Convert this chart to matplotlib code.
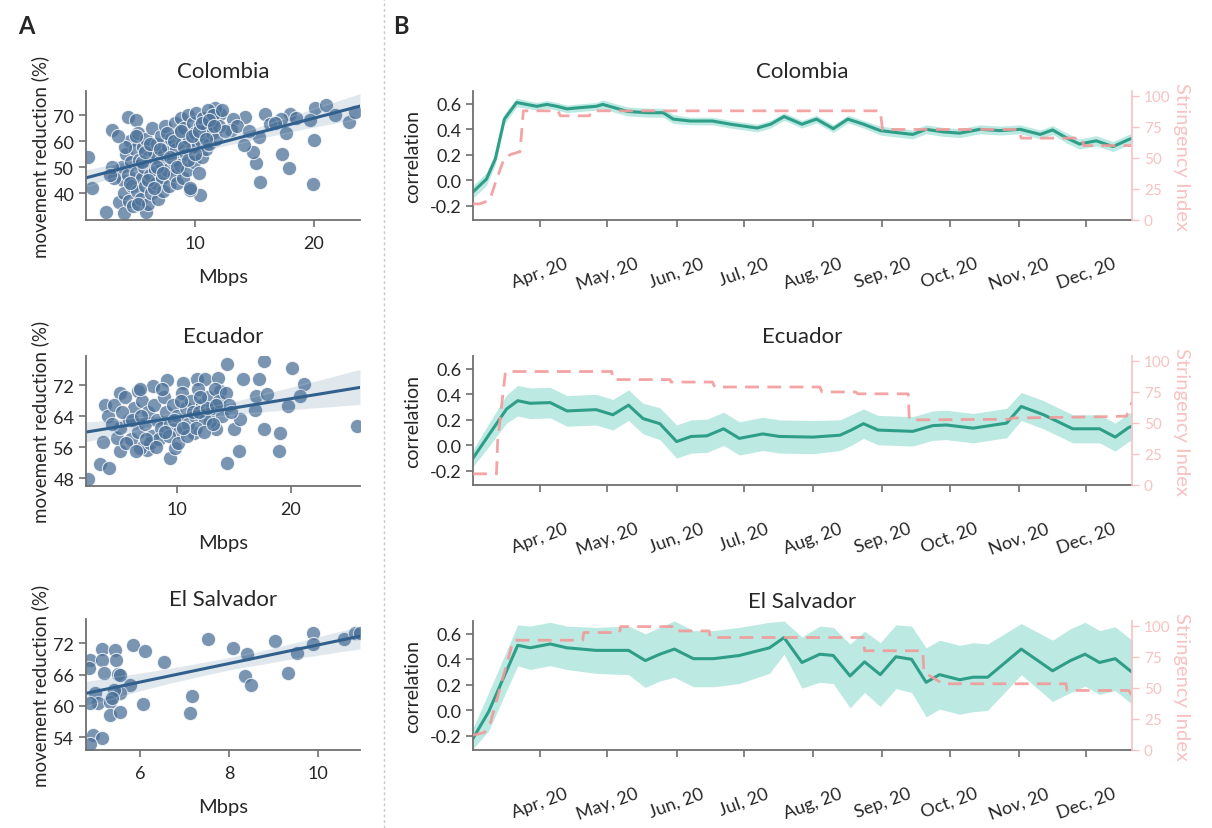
import numpy as np
import pandas as pd
import matplotlib
matplotlib.use("Agg")
import matplotlib.pyplot as plt
import matplotlib.dates as mdates
from matplotlib.lines import Line2D
import seaborn as sns

sns.set_style("ticks")
plt.rcParams['font.family'] = ['Lato', 'DejaVu Sans']

countries = ['Colombia', 'Ecuador', 'El Salvador']

# ---- panel A: download speed vs movement reduction ----
col_mbps = [20.1, 21.0, 21.8, 23.0, 23.5, 19.7, 20.0, 19.9, 17.9, 17.3, 17.7, 18.0, 17.2, 15.5, 15.1, 14.9,
            15.4, 15.9, 16.3, 14.2, 14.1, 13.2, 13.0, 12.1, 11.7, 10.4, 9.6, 5.9, 2.5, 1.3, 1.0, 3.0, 4.3, 5.0,
            3.6, 4.0,
            3.8, 3.9, 4.0, 4.2, 4.3, 4.4, 4.5, 4.6, 4.7, 4.8, 4.9, 5.0, 5.1, 5.2, 5.3, 5.4, 5.5, 5.6, 5.7, 5.8,
            5.9, 6.0, 6.1, 6.2, 6.3, 6.4, 6.5, 6.6, 6.7, 6.8, 6.9, 7.0, 7.1, 7.2, 7.3, 7.4, 7.5, 7.6, 7.7, 7.8,
            8.0, 8.1, 8.2, 8.3, 8.4, 8.5, 8.6, 8.7, 8.8, 8.9, 9.0, 9.1, 9.2, 9.3, 9.4, 9.5, 9.6, 9.7, 9.8, 9.9,
            10.0, 10.1, 10.2, 10.3, 10.4, 10.5, 10.6, 10.7, 10.8, 10.9, 11.0, 11.1, 11.2, 11.3, 11.4, 11.5, 11.8,
            12.0, 12.3, 12.5, 13.5, 14.5, 16.7, 18.5,
            4.1, 4.5, 5.0, 5.2, 5.5, 5.8, 6.0, 6.2, 6.5, 6.8, 7.0, 7.3, 7.6, 7.9, 8.2, 8.5, 8.8, 9.1, 9.4, 9.7,
            10.0, 10.3, 10.6, 10.9, 11.2, 11.6, 3.5, 3.2, 3.0, 2.8]
col_move = [72.6, 73.8, 70.0, 67.4, 71.3, 68.0, 60.4, 43.8, 49.6, 55.3, 63.0, 70.6, 68.7, 44.5, 51.5, 56.0,
            61.7, 70.6, 66.8, 69.4, 58.5, 68.7, 64.3, 70.6, 72.6, 39.3, 41.3, 33.0, 33.0, 41.9, 54.0, 64.3, 69.4, 68.0,
            36.8, 32.4,
            50, 45, 40, 55, 47, 37, 60, 52, 43, 35, 57, 48, 41, 63, 53, 38, 46, 58, 50, 43,
            61, 36, 54, 47, 40, 65, 56, 49, 44, 59, 38, 52, 62, 46, 41, 55, 66, 49, 58, 43,
            61, 53, 47, 67, 57, 44, 63, 51, 69, 59, 46, 65, 55, 49, 70, 61, 42, 57, 67, 52,
            63, 71, 58, 48, 66, 60, 54, 69, 62, 57, 65, 72, 59, 67, 63, 70, 61,
            66, 72, 64, 66, 64, 67, 69,
            58, 44, 62, 36, 52, 56, 45, 59, 42, 50, 57, 48, 63, 54, 60, 50, 64, 58, 53, 62,
            55, 64, 67, 61, 68, 66, 62, 46, 50, 47]

ecu_mbps = [14.4, 17.7, 20.1, 21.2, 20.8, 19.8, 17.2, 15.8, 17.0, 17.9, 16.9, 17.7, 19.1, 19.0, 15.5, 14.4,
            15.0, 15.6, 25.8, 2.25, 3.3, 4.1, 3.5, 5.0, 3.7, 5.0, 6.6, 7.95, 9.2, 10.6, 11.75, 12.5, 13.65, 13.8,
            9.4, 9.85, 7.4, 6.8, 4.8, 11.5, 13.5, 12.9,
            4.0, 4.5, 5.0, 5.5, 5.8, 6.0, 6.3, 6.6, 7.0, 7.2, 7.5, 7.8, 8.0, 8.3, 8.6, 8.9, 9.1, 9.4, 9.7, 10.0,
            10.2, 10.5, 10.8, 11.0, 11.3, 11.6, 11.9, 12.2, 12.5, 12.8, 13.1, 13.4, 13.7, 14.0, 14.3, 14.6,
            5.2, 6.1, 6.9, 7.7, 8.5, 9.3, 10.1, 10.9, 11.7, 12.4, 13.2, 4.3, 5.6, 6.4, 7.3, 8.2, 9.0, 9.8, 10.6,
            11.4, 12.0, 12.7, 13.5, 14.8, 6.8, 8.7, 10.4, 12.1]
ecu_move = [77.5, 78.2, 76.3, 72.3, 69.2, 66.6, 73.5, 73.5, 69.2, 69.6, 65.7, 60.6, 59.7, 55.0, 55.0, 52.0,
            60.6, 63.2, 61.5, 47.7, 51.6, 50.6, 57.4, 55.0, 67.0, 70.0, 70.5, 71.7, 73.2, 72.6, 73.5, 73.5, 73.9, 70.5,
            53.3, 55.9, 55.4, 55.9, 58.4, 59.7, 60.6, 62.7,
            64, 67, 61, 69, 63, 58, 66, 60, 68, 62, 65, 59, 67, 63, 61, 69, 65, 62, 67, 64,
            60, 70, 66, 62, 68, 64, 71, 67, 63, 69, 66, 71, 68, 64, 70, 67,
            65, 63, 64, 57, 58, 59, 57, 59, 61, 60, 62, 62, 57, 55, 58, 56, 60, 63, 61,
            65, 65, 66, 67, 65, 71, 71, 68, 69]

slv_mbps = [4.86, 5.14, 5.44, 5.46, 5.14, 4.84, 5.18, 5.51, 5.83, 6.11, 6.54, 7.52, 8.08, 8.4, 9.04, 9.9, 9.9,
            10.6, 10.84, 9.53, 9.32, 8.36, 8.49, 7.16, 7.13, 6.06, 5.78, 5.54, 5.4, 4.99, 5.06, 5.33, 5.31, 5.55,
            4.88, 4.94, 5.14, 4.88, 5.55, 5.36, 10.94]
slv_move = [68.9, 71.0, 70.8, 68.9, 68.9, 67.3, 66.4, 66.2, 71.7, 70.6, 68.4, 72.8, 71.2, 69.9, 72.5, 74.0, 71.9,
            72.8, 74.0, 70.2, 66.4, 65.8, 64.1, 61.9, 58.6, 60.4, 64.1, 62.5, 63.1, 62.5, 60.5, 60.8, 58.2, 58.9,
            60.5, 54.3, 53.9, 52.7, 66.0, 61.5, 74.1]

scatter_x = [col_mbps, ecu_mbps, slv_mbps]
scatter_y = [col_move, ecu_move, slv_move]
scatter_xlim = [(0.8, 23.9), (2.05, 26.1), (4.78, 10.95)]
scatter_ylim = [(29.8, 79.3), (46.0, 79.5), (51.5, 76.7)]
scatter_xticks = [[10, 20], [10, 20], [6, 8, 10]]
scatter_yticks = [[40, 50, 60, 70], [48, 56, 64, 72], [54, 60, 66, 72]]

# ---- panel B: correlation over time (days since 2020-03-02) ----
start = pd.Timestamp('2020-03-02')
end_day = 294.5

col_days = [0, 6, 10, 14, 19.5, 24, 28.5, 33, 37.5, 42, 48, 55, 58, 63, 69, 78, 85, 89.5, 97, 107,
            115, 127, 133, 139, 147, 153.5, 161, 167.5, 174.5, 182, 189, 196.5, 202.5, 210, 217.5, 226.5,
            235.5, 244.5, 253.5, 259, 265, 271, 278.5, 286, 293, 294.5]
col_corr = [-0.09, 0.01, 0.17, 0.48, 0.61, 0.595, 0.58, 0.595, 0.58, 0.56, 0.57, 0.58, 0.595, 0.57, 0.54,
            0.53, 0.53, 0.48, 0.465, 0.465, 0.44, 0.41, 0.44, 0.50, 0.44, 0.48, 0.405, 0.48, 0.44, 0.39, 0.375,
            0.36, 0.40, 0.38, 0.37, 0.40, 0.39, 0.40, 0.36, 0.395, 0.335, 0.285, 0.31, 0.265, 0.32, 0.33]
col_ci = [0.05, 0.05, 0.045, 0.04, 0.035, 0.03, 0.03, 0.03, 0.03, 0.03, 0.03, 0.03, 0.035, 0.035, 0.035,
          0.035, 0.035, 0.035, 0.03, 0.03, 0.03, 0.03, 0.03, 0.03, 0.03, 0.03, 0.03, 0.03, 0.03, 0.035, 0.035,
          0.035, 0.035, 0.035, 0.035, 0.035, 0.035, 0.035, 0.035, 0.035, 0.04, 0.04, 0.04, 0.04, 0.04, 0.04]

ecu_days = [0, 7, 15, 20, 25.5, 34.5, 42, 55, 62.5, 69.5, 76, 83.5, 91, 97.5, 104.5, 112, 119, 129.5, 137, 152,
            164, 169, 174.5, 181, 196.5, 205.5, 211.5, 223.5, 238.5, 245, 255, 268, 280, 287, 293, 294.5]
ecu_corr = [-0.10, 0.08, 0.285, 0.35, 0.33, 0.335, 0.27, 0.28, 0.24, 0.315, 0.21, 0.17, 0.03, 0.07, 0.075,
            0.13, 0.055, 0.09, 0.07, 0.065, 0.08, 0.12, 0.17, 0.12, 0.11, 0.155, 0.16, 0.135, 0.175, 0.305,
            0.24, 0.13, 0.13, 0.065, 0.14, 0.15]
ecu_ci = [0.065, 0.09, 0.11, 0.12, 0.12, 0.12, 0.12, 0.12, 0.12, 0.12, 0.12, 0.125, 0.13, 0.13, 0.13, 0.13,
          0.13, 0.13, 0.13, 0.13, 0.12, 0.12, 0.115, 0.115, 0.115, 0.115, 0.115, 0.115, 0.115, 0.11, 0.11,
          0.11, 0.11, 0.11, 0.11, 0.11]

slv_days = [0, 7, 20, 25.5, 34.5, 42, 55, 69.5, 77, 83.5, 90, 98.5, 107.5, 119, 132.5, 139, 147, 155, 161,
            168.5, 175, 182, 189, 196, 202.5, 208.5, 217.5, 223.5, 230, 245, 259, 267, 273.5, 280, 287, 293, 294.5]
slv_corr = [-0.22, -0.01, 0.51, 0.49, 0.52, 0.49, 0.47, 0.47, 0.39, 0.44, 0.48, 0.405, 0.405, 0.43, 0.49,
            0.57, 0.375, 0.44, 0.43, 0.27, 0.38, 0.28, 0.42, 0.40, 0.22, 0.28, 0.24, 0.26, 0.26, 0.48, 0.31,
            0.39, 0.44, 0.375, 0.405, 0.32, 0.30]
slv_ci = [0.08, 0.15, 0.16, 0.17, 0.17, 0.17, 0.18, 0.19, 0.21, 0.21, 0.22, 0.22, 0.22, 0.22, 0.2, 0.13, 0.2,
          0.22, 0.22, 0.25, 0.24, 0.25, 0.25, 0.26, 0.27, 0.27, 0.27, 0.27, 0.26, 0.2, 0.24, 0.25, 0.25, 0.25,
          0.25, 0.25, 0.25]

# stringency index (days since 2020-03-02)
col_s_days = [0, 3, 7.5, 10, 14, 17, 21, 22.5, 38, 39, 52, 53, 182, 183, 244, 245, 272, 273, 294.5]
col_s = [13, 13, 16, 30, 50, 53, 55, 88, 88, 84, 84, 88, 88, 73, 73, 66, 66, 60, 60]
ecu_s_days = [0, 10.5, 11, 14.5, 62, 62.5, 88, 88.5, 107, 108, 155, 156, 171, 172, 194.5, 195, 240, 241,
              280, 292, 294.5]
ecu_s = [9, 9, 35, 91.5, 91.5, 85, 85, 83, 83, 79, 79, 75, 75, 73.5, 73.5, 52.5, 53, 54, 55, 55.5, 67]
slv_s_days = [0, 5, 7.5, 18, 49, 49.5, 65.5, 66, 89, 89.5, 105.5, 106, 174.5, 175, 201, 201.5, 210, 265,
              265.5, 293, 294.5]
slv_s = [12, 14, 20, 88.5, 88.5, 94.7, 94.7, 99.5, 99.5, 96, 96, 90.7, 90.7, 80, 80, 62.7, 53.4, 53.4, 48,
         48, 44]

series_days = [col_days, ecu_days, slv_days]
series_corr = [col_corr, ecu_corr, slv_corr]
series_ci = [col_ci, ecu_ci, slv_ci]
string_days = [col_s_days, ecu_s_days, slv_s_days]
string_vals = [col_s, ecu_s, slv_s]

# ---- figure ----
W, H = 1212, 829
fig = plt.figure(figsize=(W / 100, H / 100), dpi=100)


def box(l, t, r, b):
    return [l / W, 1 - b / H, (r - l) / W, (b - t) / H]


left_boxes = [box(86, 92, 360, 221), box(86, 357, 360, 487), box(86, 620, 360, 751)]
right_boxes = [box(473, 92, 1132, 221), box(473, 357, 1132, 486), box(473, 622, 1132, 751)]

spine_col = '#707070'
teal = '#2e9e88'
band = '#86d8cb'
pink = '#f29a9a'
pink_light = '#f6c2c2'

for i, name in enumerate(countries):
    ax = fig.add_axes(left_boxes[i])
    ax.set_xlim(scatter_xlim[i])
    ax.set_ylim(scatter_ylim[i])
    sns.regplot(x=np.array(scatter_x[i]), y=np.array(scatter_y[i]), ax=ax, color='#4d7299', seed=0,
                truncate=False,
                scatter_kws=dict(s=105, alpha=0.75, edgecolor='white', linewidths=0.8),
                line_kws=dict(color='#32608c', lw=2.2))
    ax.set_xlim(scatter_xlim[i])
    ax.set_ylim(scatter_ylim[i])
    ax.set_xticks(scatter_xticks[i])
    ax.set_yticks(scatter_yticks[i])
    ax.set_title(name, fontsize=16, pad=10)
    ax.set_xlabel('Mbps', fontsize=14.5, labelpad=12)
    ax.set_ylabel('movement reduction (%)', fontsize=13.5, labelpad=3)
    ax.tick_params(labelsize=13, color=spine_col, width=1.2, length=5)
    ax.tick_params(axis='x', pad=6)
    for sp in ['top', 'right']:
        ax.spines[sp].set_visible(False)
    for sp in ['left', 'bottom']:
        ax.spines[sp].set_color(spine_col)
        ax.spines[sp].set_linewidth(1.3)

    # time series
    ax = fig.add_axes(right_boxes[i])
    d = start + pd.to_timedelta(np.array(series_days[i]), unit='D')
    r = np.array(series_corr[i])
    h = np.array(series_ci[i])
    ax.fill_between(d, r - h, r + h, color=band, alpha=0.55, lw=0)
    ax.plot(d, r, color=teal, lw=2.2)
    ax.set_xlim(start, start + pd.Timedelta(days=end_day))
    ax.set_ylim(-0.31, 0.70)
    ax.set_yticks([-0.2, 0.0, 0.2, 0.4, 0.6])
    ax.set_yticklabels(['-0.2', '0.0', '0.2', '0.4', '0.6'])
    ax.xaxis.set_major_locator(mdates.MonthLocator(bymonth=range(4, 13)))
    ax.xaxis.set_major_formatter(mdates.DateFormatter('%b, %y'))
    ax.tick_params(axis='x', labelsize=13, rotation=20, pad=20, color=spine_col, width=1.2, length=5)
    ax.tick_params(axis='y', labelsize=13, color=spine_col, width=1.2, length=5)
    ax.set_ylabel('correlation', fontsize=14, labelpad=6)
    ax.set_title(name, fontsize=16, pad=10)
    for sp in ['top', 'right']:
        ax.spines[sp].set_visible(False)
    for sp in ['left', 'bottom']:
        ax.spines[sp].set_color(spine_col)
        ax.spines[sp].set_linewidth(1.3)

    ax2 = ax.twinx()
    sd = start + pd.to_timedelta(np.array(string_days[i]), unit='D')
    ax2.plot(sd, string_vals[i], color=pink, lw=2, ls=(0, (5, 3)), alpha=0.9)
    ax2.set_ylim(0, 104)
    ax2.set_yticks([0, 25, 50, 75, 100])
    ax2.tick_params(axis='y', labelsize=11, colors=pink_light, width=1.0, length=5)
    ax2.set_ylabel('Stringency Index', fontsize=14.5, rotation=270, labelpad=14, color=pink_light)
    for sp in ['top', 'left', 'bottom']:
        ax2.spines[sp].set_visible(False)
    ax2.spines['right'].set_color(pink_light)
    ax2.spines['right'].set_linewidth(1.2)

fig.text(18 / W, 1 - 26 / H, 'A', fontsize=17, fontweight='bold', va='center')
fig.text(393 / W, 1 - 26 / H, 'B', fontsize=17, fontweight='bold', va='center')
fig.add_artist(Line2D([384 / W, 384 / W], [0, 1], ls=(0, (2, 2)), color='#c8c8c8', lw=1))

fig.savefig('out.png', dpi=100)
